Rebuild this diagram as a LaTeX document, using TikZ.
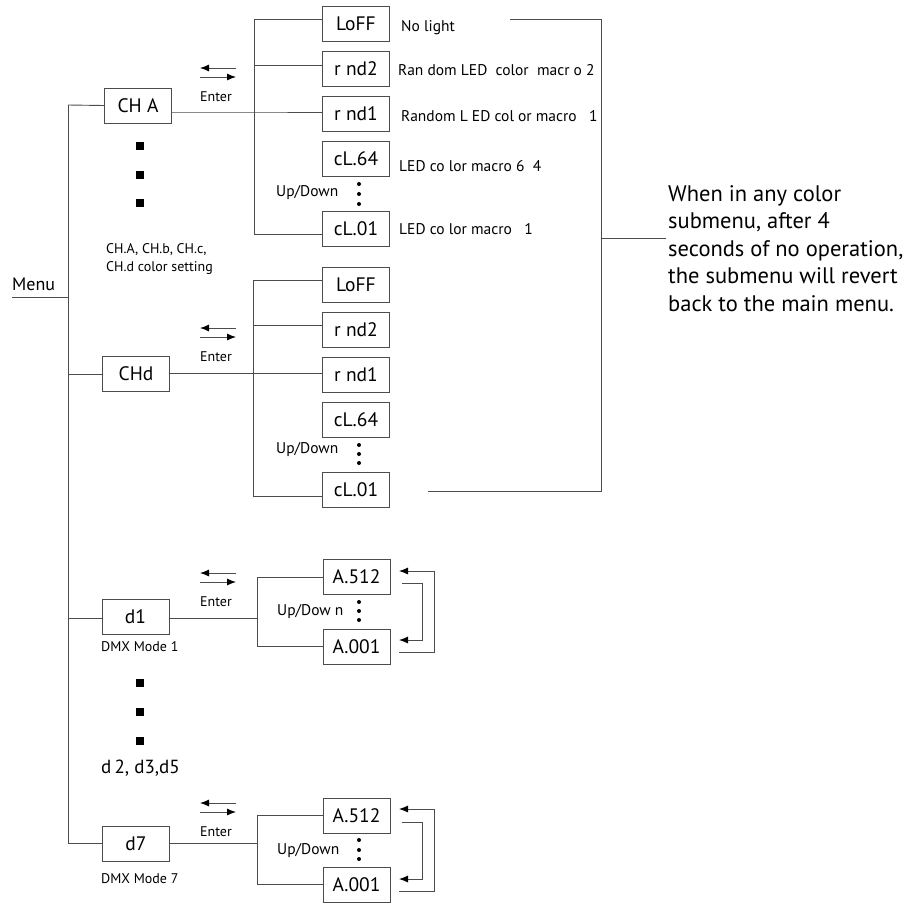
\documentclass[tikz,border=0pt]{standalone}
\usepackage{fontspec}
\setmainfont{PT Sans}
\usetikzlibrary{arrows.meta}
\begin{document}
\begin{tikzpicture}[x=1pt,y=-1pt,
  ln/.style={draw=black!70,line width=0.9pt},
  bx/.style={draw=black!70,line width=0.9pt,minimum width=67pt,minimum height=35pt,inner sep=0pt,font=\fontsize{19.5}{21}\selectfont},
  sm/.style={font=\fontsize{14}{16}\selectfont,inner sep=0pt,anchor=west},
  ds/.style={font=\fontsize{15.5}{17}\selectfont,inner sep=0pt,anchor=west},
  arr/.style={draw=black!70,line width=0.9pt,-{Latex[length=9pt,width=7pt,black]}},
  sq/.style={fill=black,minimum size=8pt,inner sep=0pt},
  dt/.style={fill=black,circle,minimum size=4pt,inner sep=0pt}]
\useasboundingbox (0,0) rectangle (909,903);
% ---------- trunk and menu
\coordinate (ttop) at (68,105);
\coordinate (tbot) at (68,843);
\draw[ln] (ttop) -- (tbot);
\coordinate (m0) at (12,297);
\draw[ln] (m0) -- (m0 -| ttop);
\node[anchor=west,inner sep=0pt,font=\fontsize{18}{20}\selectfont] (menu) at (12,284) {Menu};
% ---------- group CHA
\node[bx] (cha) at (138,105.5) {CH A};
\draw[ln] (ttop) -- (cha.west);
\coordinate (b1t) at (254,19);
\coordinate (b1r2) at (254,65);
\coordinate (b1r1) at (254,112);
\coordinate (b1b) at (254,234);
\draw[ln] (b1t) -- (b1b);
\node[bx] (lo1) at (356,23.5) {LoFF};
\node[bx] (r21) at (356,68.5) {r nd2};
\node[bx] (r11) at (356,114) {r nd1};
\node[bx] (c641) at (356,159) {cL.64};
\node[bx] (c011) at (356,228.5) {cL.01};
\draw[ln] (b1t) -- (b1t -| lo1.west);
\draw[ln] (b1r2) -- (b1r2 -| r21.west);
\draw[ln] (b1r1 -| cha.east) -- (b1r1) -- (b1r1 -| r11.west);
\draw[ln] (b1b) -- (b1b -| c011.west);
\node[ds] (t1) at (401,28) {No light};
\node[ds] (t2) at (398,70) {Ran dom LED\ \ color\ \ macr o\ 2};
\node[ds] (t3) at (401,116) {Random L ED col or macro\ \ \ 1};
\node[ds] (t4) at (399,166) {LED co lor macro 6\ \ 4};
\node[ds] (t5) at (399,229) {LED co lor macro\ \ \ 1};
\node[ds] (ud1) at (276,193) {Up/Down};
\node[dt] (d11) at (359,184) {};
\node[dt] (d12) at (359,194) {};
\node[dt] (d13) at (359,204) {};
\coordinate (a1a) at (200,68); \coordinate (a1b) at (236,68);
\coordinate (a1c) at (200,77); \coordinate (a1d) at (236,77);
\draw[arr] (a1b) -- (a1a);
\draw[arr] (a1c) -- (a1d);
\node[sm] (en1) at (200,97) {Enter};
\node[sq] (s11) at (140,146) {};
\node[sq] (s12) at (140,175) {};
\node[sq] (s13) at (140,203) {};
\node[sm,align=left,font=\fontsize{14}{17.5}\selectfont] (chtxt) at (106,259) {CH.A, CH.b, CH.c,\\CH.d color setting};
% ---------- group CHd
\node[bx] (chd) at (136,373.5) {CHd};
\coordinate (tc2) at (68,374);
\draw[ln] (tc2) -- (tc2 -| chd.west);
\coordinate (b2t) at (253,280);
\coordinate (b2r2) at (253,325);
\coordinate (b2r1) at (253,373);
\coordinate (b2b) at (253,496);
\draw[ln] (b2t) -- (b2b);
\node[bx] (lo2) at (356,284.5) {LoFF};
\node[bx] (r22) at (356,329.5) {r nd2};
\node[bx] (r12) at (356,374.5) {r nd1};
\node[bx] (c642) at (356,419.5) {cL.64};
\node[bx] (c012) at (356,490) {cL.01};
\draw[ln] (b2t) -- (b2t -| lo2.west);
\draw[ln] (b2r2) -- (b2r2 -| r22.west);
\draw[ln] (b2r1 -| chd.east) -- (b2r1) -- (b2r1 -| r12.west);
\draw[ln] (b2b) -- (b2b -| c012.west);
\node[ds] (ud2) at (276,450) {Up/Down};
\node[dt] (d21) at (359,445) {};
\node[dt] (d22) at (359,454) {};
\node[dt] (d23) at (359,463) {};
\coordinate (a2a) at (200,328); \coordinate (a2b) at (236,328);
\coordinate (a2c) at (200,337); \coordinate (a2d) at (236,337);
\draw[arr] (a2b) -- (a2a);
\draw[arr] (a2c) -- (a2d);
\node[sm] (en2) at (200,357) {Enter};
% ---------- bracket and note
\coordinate (ra) at (510,19); \coordinate (rb) at (601,19);
\coordinate (rc) at (601,491); \coordinate (rd) at (428,491);
\draw[ln] (ra) -- (rb) -- (rc) -- (rd);
\coordinate (rm) at (601,238); \coordinate (rn) at (666,238);
\draw[ln] (rm) -- (rn);
\node[anchor=north west,align=left,inner sep=0pt,font=\fontsize{22.5}{27.5}\selectfont] (note) at (668,185)
 {When in any color\\submenu, after 4\\seconds of no operation,\\the submenu will revert\\back to the main menu.};
% ---------- group d1
\node[bx] (dm1) at (135.5,616.5) {d1};
\coordinate (tc3) at (68,618);
\coordinate (b3c) at (257,618);
\draw[ln] (tc3) -- (tc3 -| dm1.west);
\draw[ln] (b3c -| dm1.east) -- (b3c);
\coordinate (b3t) at (257,577);
\coordinate (b3b) at (257,646);
\draw[ln] (b3t) -- (b3b);
\node[bx] (h1) at (356.5,576.5) {A.512};
\node[bx] (l1) at (356.5,646.5) {A.001};
\draw[ln] (b3t) -- (b3t -| h1.west);
\draw[ln] (b3b) -- (b3b -| l1.west);
\node[ds] (ud3) at (277,612) {Up/Dow n};
\node[dt] (d31) at (359,602) {};
\node[dt] (d32) at (359,611) {};
\node[dt] (d33) at (359,620) {};
\coordinate (a3a) at (200,573); \coordinate (a3b) at (236,573);
\coordinate (a3c) at (200,582); \coordinate (a3d) at (236,582);
\draw[arr] (a3b) -- (a3a);
\draw[arr] (a3c) -- (a3d);
\node[sm] (en3) at (200,602) {Enter};
\node[sm] (dmx1) at (101,647) {DMX Mode 1};
\coordinate (o3a) at (399,652); \coordinate (o3b) at (434,652);
\coordinate (o3c) at (434,571); \coordinate (o3d) at (399,571);
\draw[arr] (o3a) -- (o3b) -- (o3c) -- (o3d);
\coordinate (i3a) at (402,583); \coordinate (i3b) at (422,583);
\coordinate (i3c) at (422,640); \coordinate (i3d) at (399,640);
\draw[arr] (i3a) -- (i3b) -- (i3c) -- (i3d);
\node[sq] (s31) at (140,683) {};
\node[sq] (s32) at (140,712) {};
\node[sq] (s33) at (140,741) {};
\node[anchor=west,inner sep=0pt,font=\fontsize{19}{21}\selectfont] (dlist) at (101,768) {d\,2, d3,d5};
% ---------- group d7
\node[bx] (dm7) at (136,843.5) {d7};
\coordinate (b4c) at (257,843);
\draw[ln] (tbot) -- (tbot -| dm7.west);
\draw[ln] (b4c -| dm7.east) -- (b4c);
\coordinate (b4t) at (257,815);
\coordinate (b4b) at (257,884);
\draw[ln] (b4t) -- (b4b);
\node[bx] (h2) at (356.5,815.5) {A.512};
\node[bx] (l2) at (356.5,885) {A.001};
\draw[ln] (b4t) -- (b4t -| h2.west);
\draw[ln] (b4b) -- (b4b -| l2.west);
\node[ds] (ud4) at (277,851) {Up/Down};
\node[dt] (d41) at (359,840) {};
\node[dt] (d42) at (359,850) {};
\node[dt] (d43) at (359,859) {};
\coordinate (a4a) at (200,803); \coordinate (a4b) at (236,803);
\coordinate (a4c) at (200,812); \coordinate (a4d) at (236,812);
\draw[arr] (a4b) -- (a4a);
\draw[arr] (a4c) -- (a4d);
\node[sm] (en4) at (200,832) {Enter};
\node[sm] (dmx7) at (101,879) {DMX Mode 7};
\coordinate (o4a) at (399,891); \coordinate (o4b) at (434,891);
\coordinate (o4c) at (434,809); \coordinate (o4d) at (399,809);
\draw[arr] (o4a) -- (o4b) -- (o4c) -- (o4d);
\coordinate (i4a) at (402,822); \coordinate (i4b) at (422,822);
\coordinate (i4c) at (422,879); \coordinate (i4d) at (399,879);
\draw[arr] (i4a) -- (i4b) -- (i4c) -- (i4d);
\end{tikzpicture}
\end{document}
